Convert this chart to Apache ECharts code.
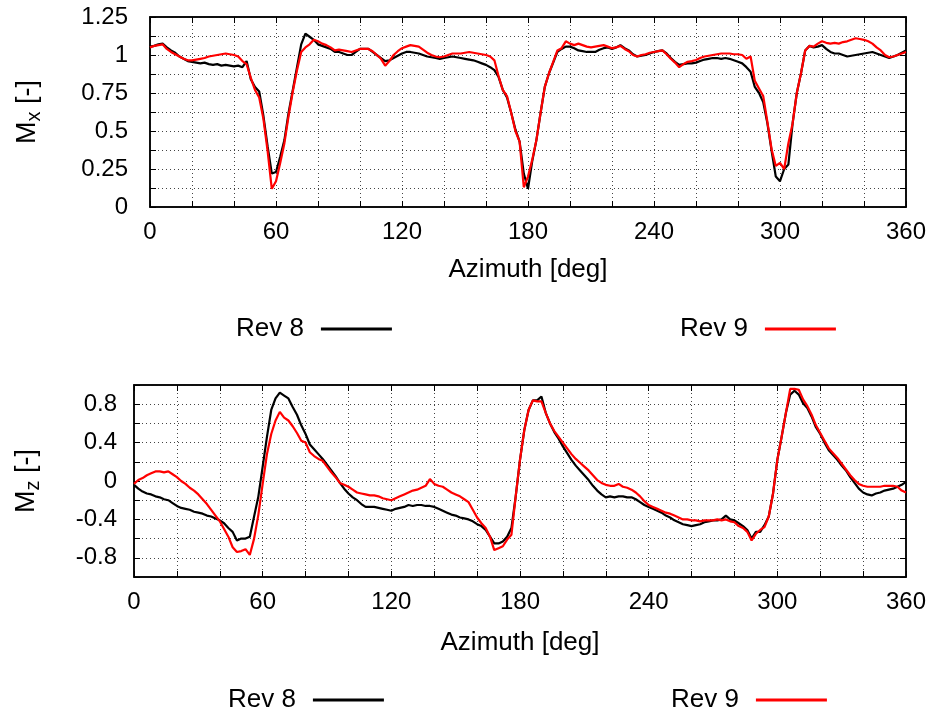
<!DOCTYPE html>
<html><head><meta charset="utf-8">
<script src="https://cdn.jsdelivr.net/npm/echarts@6/dist/echarts.min.js"></script>
<style>html,body{margin:0;padding:0;background:#fff}#c{width:930px;height:711px}</style>
</head><body><div id="c"></div>
<script>
// Azimuth sample positions [deg]
const azimuth = [
0,2,4,6,8,10,12,14,16,18,
20,22,24,26,28,30,32,34,36,38,
40,42,44,46,48,50,52,54,56,58,
60,62,64,66,68,70,72,74,76,78,
80,82,84,86,88,90,92,94,96,98,
100,102,104,106,108,110,112,114,116,118,
120,122,124,126,128,130,132,134,136,138,
140,142,144,146,148,150,152,154,156,158,
160,162,164,166,168,170,172,174,176,178,
180,182,184,186,188,190,192,194,196,198,
200,202,204,206,208,210,212,214,216,218,
220,222,224,226,228,230,232,234,236,238,
240,242,244,246,248,250,252,254,256,258,
260,262,264,266,268,270,272,274,276,278,
280,282,284,286,288,290,292,294,296,298,
300,302,304,306,308,310,312,314,316,318,
320,322,324,326,328,330,332,334,336,338,
340,342,344,346,348,350,352,354,356,358,
360];

const seriesNames = ['Rev 8', 'Rev 9'];
const xTickLabels = [0, 60, 120, 180, 240, 300, 360];
const mxTickLabels = [0, 0.25, 0.5, 0.75, 1, 1.25];
const mzTickLabels = [-0.8, -0.4, 0, 0.4, 0.8];

// Mx [-]
const mxRev8 = [
1.055,1.06,1.07,1.075,1.05,1.03,1.015,0.99,0.975,0.96,
0.955,0.95,0.945,0.95,0.94,0.935,0.94,0.93,0.935,0.93,
0.925,0.93,0.92,0.96,0.84,0.79,0.76,0.6,0.4,0.22,
0.23,0.33,0.44,0.62,0.77,0.92,1.07,1.14,1.12,1.1,
1.07,1.06,1.05,1.04,1.02,1.02,1.01,1.0,1.0,1.02,
1.04,1.04,1.04,1.02,1.0,0.98,0.96,0.965,0.98,0.995,
1.01,1.02,1.02,1.015,1.01,1.0,0.99,0.985,0.98,0.975,
0.98,0.985,0.99,0.985,0.98,0.975,0.97,0.965,0.955,0.945,
0.935,0.92,0.9,0.855,0.77,0.72,0.62,0.51,0.43,0.22,
0.12,0.3,0.44,0.62,0.79,0.88,0.95,1.02,1.04,1.055,
1.055,1.045,1.03,1.025,1.02,1.02,1.02,1.035,1.045,1.05,
1.04,1.05,1.065,1.045,1.03,1.005,0.99,0.995,1.0,1.01,
1.02,1.025,1.03,1.01,0.98,0.955,0.935,0.94,0.945,0.945,
0.95,0.96,0.97,0.975,0.98,0.98,0.975,0.98,0.975,0.965,
0.955,0.945,0.92,0.89,0.79,0.75,0.69,0.55,0.37,0.2,
0.17,0.25,0.28,0.55,0.75,0.88,1.03,1.06,1.05,1.055,
1.065,1.04,1.02,1.01,1.01,1.0,0.99,0.995,1.0,1.005,
1.01,1.015,1.02,1.01,1.0,0.99,0.98,0.99,1.0,1.015,
1.03];
const mxRev9 = [
1.05,1.06,1.065,1.07,1.04,1.02,1.005,0.99,0.975,0.965,
0.965,0.97,0.975,0.98,0.99,0.995,1.0,1.005,1.01,1.005,
1.0,0.99,0.96,0.94,0.85,0.77,0.72,0.58,0.37,0.12,
0.17,0.29,0.42,0.6,0.76,0.9,1.02,1.05,1.07,1.1,
1.09,1.075,1.065,1.05,1.03,1.035,1.03,1.025,1.02,1.03,
1.04,1.04,1.04,1.025,1.0,0.975,0.93,0.96,1.0,1.025,
1.045,1.055,1.065,1.06,1.055,1.035,1.015,1.0,0.99,0.985,
0.99,1.0,1.01,1.01,1.01,1.015,1.02,1.015,1.01,1.005,
1.0,0.99,0.965,0.86,0.77,0.73,0.62,0.5,0.43,0.13,
0.2,0.31,0.44,0.62,0.79,0.88,0.955,1.03,1.045,1.09,
1.075,1.065,1.075,1.065,1.055,1.05,1.055,1.06,1.065,1.055,
1.045,1.05,1.06,1.04,1.025,1.0,0.99,1.0,1.005,1.015,
1.02,1.025,1.03,1.005,0.975,0.95,0.92,0.94,0.955,0.96,
0.967,0.98,0.99,0.995,1.0,1.005,1.01,1.01,1.01,1.005,
1.005,1.0,0.975,0.99,0.83,0.78,0.73,0.56,0.38,0.27,
0.29,0.25,0.42,0.55,0.75,0.88,1.03,1.06,1.055,1.075,
1.09,1.08,1.075,1.08,1.075,1.085,1.09,1.1,1.11,1.105,
1.1,1.09,1.075,1.05,1.03,1.0,0.985,0.99,1.0,1.01,
1.02];

// Mz [-]
const mzRev8 = [
-0.04,-0.08,-0.11,-0.13,-0.14,-0.16,-0.17,-0.19,-0.2,-0.23,
-0.26,-0.28,-0.29,-0.3,-0.32,-0.33,-0.34,-0.36,-0.37,-0.39,
-0.41,-0.44,-0.49,-0.53,-0.62,-0.6,-0.6,-0.58,-0.37,-0.16,
0.15,0.46,0.74,0.86,0.92,0.89,0.86,0.77,0.69,0.58,
0.49,0.38,0.33,0.28,0.23,0.17,0.11,0.05,-0.02,-0.08,
-0.13,-0.17,-0.2,-0.24,-0.27,-0.27,-0.27,-0.28,-0.29,-0.3,
-0.31,-0.29,-0.28,-0.27,-0.25,-0.26,-0.25,-0.25,-0.26,-0.26,
-0.27,-0.29,-0.31,-0.33,-0.35,-0.36,-0.38,-0.39,-0.4,-0.42,
-0.45,-0.47,-0.51,-0.58,-0.65,-0.65,-0.63,-0.58,-0.49,-0.16,
0.22,0.53,0.74,0.84,0.84,0.88,0.71,0.6,0.51,0.44,
0.36,0.29,0.22,0.16,0.11,0.06,0.01,-0.05,-0.1,-0.14,
-0.17,-0.16,-0.17,-0.16,-0.16,-0.17,-0.17,-0.19,-0.22,-0.25,
-0.27,-0.29,-0.31,-0.33,-0.36,-0.38,-0.41,-0.43,-0.45,-0.46,
-0.47,-0.46,-0.45,-0.43,-0.42,-0.41,-0.41,-0.4,-0.36,-0.4,
-0.41,-0.44,-0.47,-0.51,-0.6,-0.53,-0.53,-0.46,-0.37,-0.13,
0.22,0.46,0.71,0.9,0.94,0.9,0.81,0.76,0.67,0.56,
0.49,0.4,0.32,0.27,0.22,0.16,0.11,0.04,-0.02,-0.08,
-0.12,-0.14,-0.15,-0.13,-0.12,-0.1,-0.09,-0.08,-0.06,-0.04,
-0.01];
const mzRev9 = [
-0.03,0.01,0.03,0.06,0.08,0.1,0.1,0.09,0.1,0.07,
0.04,0.0,-0.03,-0.07,-0.1,-0.14,-0.19,-0.24,-0.3,-0.36,
-0.42,-0.5,-0.58,-0.69,-0.74,-0.73,-0.71,-0.77,-0.6,-0.35,
-0.03,0.28,0.49,0.63,0.72,0.66,0.63,0.57,0.5,0.42,
0.4,0.3,0.26,0.23,0.21,0.15,0.09,0.04,-0.02,-0.04,
-0.06,-0.09,-0.12,-0.13,-0.14,-0.15,-0.15,-0.16,-0.18,-0.19,
-0.2,-0.18,-0.16,-0.14,-0.12,-0.1,-0.09,-0.07,-0.05,0.02,
-0.03,-0.05,-0.06,-0.09,-0.12,-0.14,-0.16,-0.19,-0.22,-0.3,
-0.38,-0.44,-0.49,-0.58,-0.72,-0.7,-0.68,-0.61,-0.56,-0.16,
0.22,0.53,0.74,0.84,0.83,0.83,0.71,0.6,0.52,0.46,
0.4,0.34,0.28,0.23,0.19,0.15,0.11,0.06,0.01,-0.02,
-0.04,-0.05,-0.05,-0.03,-0.06,-0.07,-0.09,-0.12,-0.16,-0.21,
-0.25,-0.27,-0.29,-0.31,-0.33,-0.34,-0.36,-0.38,-0.4,-0.4,
-0.41,-0.41,-0.42,-0.41,-0.41,-0.41,-0.4,-0.41,-0.4,-0.42,
-0.43,-0.47,-0.49,-0.53,-0.62,-0.55,-0.51,-0.48,-0.37,-0.13,
0.22,0.46,0.71,0.96,0.96,0.95,0.85,0.78,0.69,0.58,
0.5,0.42,0.34,0.29,0.24,0.18,0.12,0.06,0.01,-0.03,
-0.05,-0.06,-0.06,-0.06,-0.06,-0.05,-0.05,-0.05,-0.06,-0.1,
-0.12];

const FONT = '"Liberation Sans", Arial, Helvetica, sans-serif';
const near = (v, list) => list.some(t => Math.abs(t - v) < 1e-6);
const fmt = v => String(Math.round(v * 1000) / 1000);

function xMain(grid, gap) {
  return {
    type: 'value', gridIndex: grid, min: 0, max: 360, interval: 20, position: 'bottom',
    axisLine: { show: true, onZero: false, lineStyle: { color: '#000', width: 1.5 } },
    axisTick: { show: true, inside: true, length: 6, lineStyle: { color: '#000', width: 1 } },
    axisLabel: { fontSize: 24, color: '#000', fontFamily: FONT, margin: 13,
      formatter: v => near(v, xTickLabels) ? fmt(v) : '' },
    splitLine: { show: true, lineStyle: { color: '#444', type: [1, 3], width: 1 } },
    name: 'Azimuth [deg]', nameLocation: 'middle', nameGap: gap,
    nameTextStyle: { fontSize: 26, color: '#000', fontFamily: FONT }
  };
}
function xMirror(grid) {
  return {
    type: 'value', gridIndex: grid, min: 0, max: 360, interval: 20, position: 'top',
    axisLine: { show: true, onZero: false, lineStyle: { color: '#000', width: 1.5 } },
    axisTick: { show: true, inside: true, length: 6, lineStyle: { color: '#000', width: 1 } },
    axisLabel: { show: false }, splitLine: { show: false }
  };
}
function yMain(grid, min, max, interval, labels, sub, gap, margin) {
  return {
    type: 'value', gridIndex: grid, min: min, max: max, interval: interval, position: 'left',
    axisLine: { show: true, onZero: false, lineStyle: { color: '#000', width: 1.5 } },
    axisTick: { show: true, inside: true, length: 6, lineStyle: { color: '#000', width: 1 } },
    axisLabel: { fontSize: 24, color: '#000', fontFamily: FONT, margin: margin,
      formatter: v => near(v, labels) ? fmt(v) : '' },
    splitLine: { show: true, lineStyle: { color: '#444', type: [1, 3], width: 1 } },
    name: 'M{s|' + sub + '} [-]', nameLocation: 'middle', nameGap: gap,
    nameTextStyle: { fontSize: 27, color: '#000', fontFamily: FONT,
      rich: { s: { fontSize: 20, color: '#000', fontFamily: FONT, padding: [12, 0, 0, 0] } } }
  };
}
function yMirror(grid, min, max, interval) {
  return {
    type: 'value', gridIndex: grid, min: min, max: max, interval: interval, position: 'right',
    axisLine: { show: true, onZero: false, lineStyle: { color: '#000', width: 1.5 } },
    axisTick: { show: true, inside: true, length: 6, lineStyle: { color: '#000', width: 1 } },
    axisLabel: { show: false }, splitLine: { show: false }
  };
}
function legend(name, left, top) {
  return {
    data: [name], left: left, top: top, align: 'right', icon: 'rect',
    itemWidth: 71, itemHeight: 3, selectedMode: false,
    textStyle: { fontSize: 26, color: '#000', fontFamily: FONT, padding: [0, 12, 0, 0] }
  };
}
const pairs = vals => azimuth.map((a, i) => [a, vals[i]]);
const line = (name, color, xi, yi, vals) => ({
  name: name, type: 'line', xAxisIndex: xi, yAxisIndex: yi, data: pairs(vals),
  showSymbol: false, symbol: 'none', color: color,
  lineStyle: { color: color, width: 2.2 }, animation: false
});

const chart = echarts.init(document.getElementById('c'), null, { renderer: 'canvas' });
chart.setOption({
  backgroundColor: '#fff',
  animation: false,
  grid: [
    { left: 150, right: 24, top: 17, height: 190, show: true, borderColor: '#000', borderWidth: 1.5 },
    { left: 134, right: 24, top: 385, height: 192, show: true, borderColor: '#000', borderWidth: 1.5 }
  ],
  xAxis: [xMain(0, 50), xMirror(0), xMain(1, 53), xMirror(1)],
  yAxis: [
    yMain(0, 0, 1.25, 0.125, mxTickLabels, 'x', 106, 22), yMirror(0, 0, 1.25, 0.125),
    yMain(1, -1, 1, 0.2, mzTickLabels, 'z', 91, 17), yMirror(1, -1, 1, 0.2)
  ],
  legend: [
    legend(seriesNames[0], 231, 311), legend(seriesNames[1], 675, 311),
    legend(seriesNames[0], 223, 682), legend(seriesNames[1], 666, 682)
  ],
  series: [
    line(seriesNames[0], '#000000', 0, 0, mxRev8),
    line(seriesNames[1], '#ff0000', 0, 0, mxRev9),
    line(seriesNames[0], '#000000', 2, 2, mzRev8),
    line(seriesNames[1], '#ff0000', 2, 2, mzRev9)
  ]
});
</script></body></html>
